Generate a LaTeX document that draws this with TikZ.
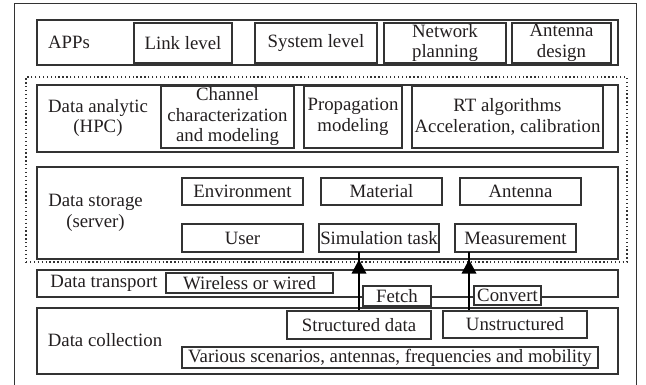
\documentclass[tikz,border=0pt]{standalone}
\usepackage{fontspec}
\setmainfont{Liberation Serif}
\usetikzlibrary{arrows.meta}
\definecolor{ln}{HTML}{333333}
\definecolor{tx}{HTML}{231F20}
\tikzset{
  lbl/.style={font=\fontsize{18.8}{20.5}\selectfont, text=tx, align=center, inner sep=0pt},
  box/.style={lbl, draw=ln, line width=1.2pt, fill=white, minimum width=#1},
  layer/.style={draw=ln, line width=1.2pt, minimum width=581pt, inner sep=0pt},
  arr/.style={draw=black, line width=1.2pt},
  head/.style={fill=black},
  grp/.style={draw=ln, line width=1.2pt, dash pattern=on 1.3pt off 2.6pt, inner sep=0pt}
}
\begin{document}
\begin{tikzpicture}[x=1pt,y=-1pt]
\useasboundingbox (0,0) rectangle (646,385);
% outer frame (cropped at bottom)
\draw[draw=ln, line width=1pt] (14,392) -- (14,4) -- (636,4) -- (636,392);

% APPs layer
\node[layer, minimum height=45pt] (apps) at (327.5,42.5) {};
\node[lbl] (appsl) at (69,42) {APPs};
\node[box=98pt, minimum height=40pt] (link) at (183,43) {Link level};
\node[box=122pt, minimum height=40pt] (sys) at (316,43) {System level};
\node[box=122pt, minimum height=40pt] (net) at (445,43) {Network\\planning};
\node[box=99pt, minimum height=40pt] (antd) at (561.5,43) {Antenna\\design};

% dotted group
\node[grp, minimum width=601pt, minimum height=185pt] (grp) at (326.5,169.5) {};

% Data analytic layer
\node[layer, minimum height=67pt] (ana) at (327.5,118.5) {};
\node[lbl] (anal) at (98,118) {Data analytic\\(HPC)};
\node[box=133pt, minimum height=62pt] (chan) at (227.5,117) {Channel\\characterization\\and modeling};
\node[box=98pt, minimum height=62pt] (prop) at (353,117) {Propagation\\modeling};
\node[box=191pt, minimum height=62pt] (rt) at (507.5,117) {RT algorithms\\Acceleration, calibration};

% Data storage layer
\node[layer, minimum height=92pt] (store) at (327.5,213) {};
\node[lbl] (storel) at (95.5,213) {Data storage\\(server)};
\node[box=121pt, minimum height=27pt] (env) at (242.5,191.5) {Environment};
\node[box=121pt, minimum height=27pt] (mat) at (381.5,191.5) {Material};
\node[box=121pt, minimum height=27pt] (antn) at (520.5,191.5) {Antenna};
\node[box=121pt, minimum height=28pt] (user) at (242.5,238) {User};
\node[box=120pt, minimum height=28pt] (sim) at (379,238) {Simulation task};
\node[box=121pt, minimum height=28pt] (meas) at (515.5,238) {Measurement};

% Data transport layer
\node[layer, minimum height=27pt] (trans) at (327.5,283.5) {};
\node[lbl] (transl) at (104,283) {Data transport};
\node[box=167pt, minimum height=20pt] (wire) at (249.5,283) {Wireless or wired};

% Data collection layer
\node[layer, minimum height=66pt] (coll) at (327.5,341) {};
\node[lbl] (colll) at (105,340) {Data collection};
\node[box=144pt, minimum height=28pt] (sd) at (359,325) {Structured data};
\node[box=144pt, minimum height=27pt] (us) at (515,324.5) {Unstructured};
\node[box=416pt, minimum height=21pt] (var) at (390,357.5) {Various scenarios, antennas, frequencies and mobility};

% Fetch / Convert on the transport boundary
\node[box=68pt, minimum height=20pt] (fetch) at (397,296) {Fetch};
\node[box=67pt, minimum height=19pt] (conv) at (507.5,295.5) {Convert};

% arrows (line + filled head)
\coordinate (t1) at (sd.north |- store.south);
\coordinate (t2) at ([xshift=-46pt]us.north |- store.south);
\draw[arr] (sd.north) -- ([yshift=8pt]t1);
\fill[head] (t1) -- ++(-7.5,14) -- ++(15,0) -- cycle;
\draw[arr] ([xshift=-46pt]us.north) -- ([yshift=8pt]t2);
\fill[head] (t2) -- ++(-7.5,14) -- ++(15,0) -- cycle;
\end{tikzpicture}
\end{document}
